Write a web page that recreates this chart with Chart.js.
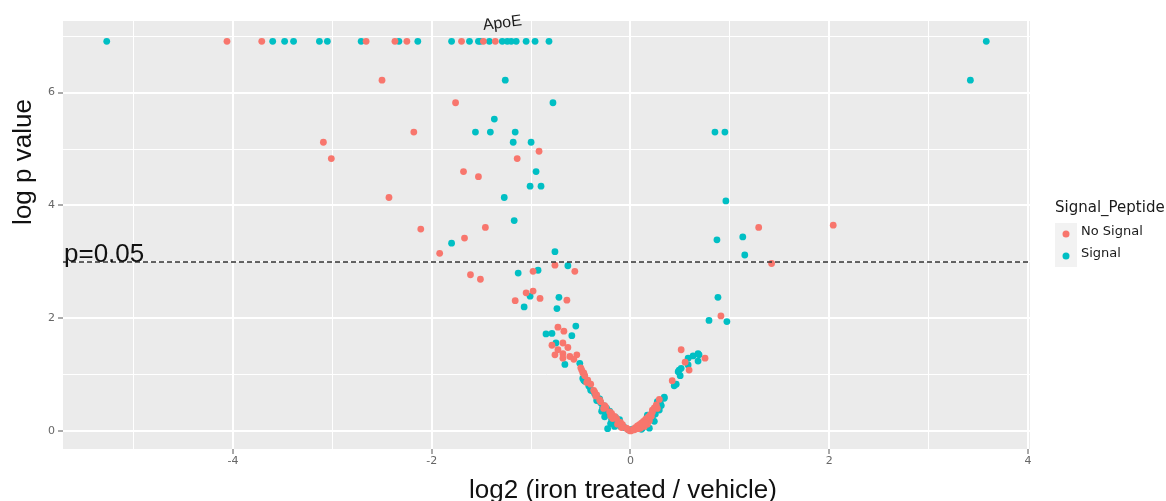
<!DOCTYPE html>
<html><head><meta charset="utf-8">
<script src="https://cdn.jsdelivr.net/npm/chart.js@4.4.1/dist/chart.umd.min.js"></script>
<style>html,body{margin:0;padding:0;background:#fff}#wrap{width:1166px;height:501px;position:relative}canvas{display:block}</style>
</head><body><div id="wrap"><canvas id="c" width="1166" height="501"></canvas></div>
<script>
// ---- data (log2 fold change, log p value) ----
const noSignal = [
  [-4.06,6.91],[-3.71,6.91],[-2.66,6.91],[-2.37,6.91],[-2.25,6.91],[-1.70,6.91],[-1.48,6.91],[-1.36,6.91],
  [-2.50,6.22],[-3.09,5.12],[-3.01,4.83],[-2.43,4.14],[-1.76,5.82],[-2.18,5.30],[-0.92,4.96],[-1.14,4.83],
  [-1.68,4.60],[-1.53,4.51],[1.29,3.61],[-2.11,3.58],[-1.46,3.61],[-1.67,3.42],[2.04,3.65],[1.42,2.97],
  [-1.92,3.15],[-0.76,2.94],[-0.56,2.83],[-0.98,2.83],[-1.61,2.77],[-1.51,2.69],[-1.05,2.45],[-0.98,2.48],
  [-0.91,2.35],[-0.64,2.32],[-1.16,2.31],[-0.73,1.84],[-0.67,1.77],[-0.79,1.52],[-0.68,1.56],[-0.73,1.44],
  [-0.63,1.48],[-0.76,1.35],[-0.68,1.37],[-0.68,1.29],[-0.61,1.32],[-0.54,1.35],[-0.57,1.27],[-0.50,1.12],
  [-0.47,1.03],[0.91,2.04],
  [-0.49,1.08],[-0.48,1.03],[-0.46,0.98],[-0.43,0.90],[-0.40,0.83],[-0.37,0.72],
  [-0.36,0.69],[-0.34,0.64],[-0.31,0.55],[-0.30,0.52],[-0.26,0.45],[-0.25,0.42],
  [-0.21,0.34],[-0.19,0.31],[-0.16,0.26],[-0.14,0.22],[-0.10,0.15],
  [-0.08,0.11],[-0.04,0.05],[-0.03,0.03],[-0.01,0.01],[0.00,0.00],[0.01,0.01],
  [-0.44,0.86],[-0.35,0.62],[-0.27,0.40],[-0.18,0.22],[-0.09,0.06],[-0.20,0.27],[-0.13,0.12],
  [0.03,0.03],[0.05,0.06],[0.07,0.09],[0.09,0.11],[0.11,0.14],[0.13,0.17],[0.15,0.20],[0.16,0.22],
  [0.18,0.25],[0.20,0.29],[0.22,0.33],[0.22,0.37],[0.24,0.41],[0.26,0.46],[0.10,0.05],[0.14,0.08],
  [0.17,0.12],[0.29,0.56],[0.42,0.89],[0.51,1.44],[0.55,1.22],[0.59,1.08],[0.75,1.29],
  [0.04,0.02],[0.08,0.04],[0.12,0.10],[0.19,0.18],[0.21,0.26],[0.27,0.40],[0.15,0.14]
];
const signal = [
  [-5.27,6.91],[-3.60,6.91],[-3.48,6.91],[-3.39,6.91],[-3.13,6.91],[-3.05,6.91],[-2.71,6.91],[-2.33,6.91],
  [-2.14,6.91],[-1.80,6.91],[-1.62,6.91],[-1.53,6.91],[-1.51,6.91],[-1.42,6.91],[-1.29,6.91],[-1.24,6.91],
  [-1.20,6.91],[-1.15,6.91],[-1.05,6.91],[-0.96,6.91],[-0.82,6.91],[3.58,6.91],
  [-1.26,6.22],[3.42,6.22],[-0.78,5.82],[-1.37,5.53],[-1.56,5.30],[-1.41,5.30],[-1.16,5.30],[-1.18,5.12],
  [-1.00,5.12],[-0.95,4.60],[-1.01,4.34],[-0.90,4.34],[-1.27,4.14],[0.85,5.30],[0.95,5.30],[0.96,4.08],
  [-1.17,3.73],[-1.80,3.33],[0.87,3.39],[1.13,3.44],[1.15,3.12],[-0.76,3.18],[-0.63,2.93],[-1.13,2.80],
  [-0.93,2.85],[-1.01,2.39],[-0.72,2.37],[-1.07,2.20],[-0.74,2.17],[0.88,2.37],[0.79,1.96],[0.97,1.94],
  [-0.55,1.86],[-0.85,1.72],[-0.79,1.73],[-0.59,1.69],[-0.75,1.56],[-0.66,1.18],[-0.51,1.20],
  [-0.47,0.90],[-0.46,0.88],[-0.41,0.78],[-0.38,0.71],[-0.33,0.58],[-0.30,0.50],[-0.27,0.45],[-0.24,0.40],
  [-0.21,0.35],[-0.26,0.25],[-0.19,0.20],[-0.15,0.24],[-0.11,0.20],[-0.13,0.14],[-0.09,0.10],[-0.23,0.04],
  [-0.16,0.08],[-0.06,0.06],[-0.02,0.02],
  [-0.48,0.93],[-0.42,0.80],[-0.36,0.66],[-0.31,0.57],[-0.28,0.42],[-0.22,0.30],[-0.18,0.24],[-0.12,0.16],
  [-0.07,0.07],[-0.20,0.13],[-0.29,0.35],
  [-0.40,0.72],[-0.34,0.54],[-0.25,0.33],[-0.17,0.17],[-0.10,0.08],
  [0.02,0.03],[0.06,0.05],[0.09,0.07],[0.12,0.05],[0.14,0.10],[0.19,0.05],[0.17,0.28],[0.20,0.22],
  [0.24,0.17],[0.25,0.30],[0.27,0.52],[0.29,0.37],[0.31,0.45],[0.34,0.58],[0.34,0.60],[0.44,0.80],
  [0.46,0.83],[0.48,1.05],[0.50,0.98],[0.49,1.08],[0.51,1.11],[0.58,1.17],[0.58,1.29],[0.63,1.33],
  [0.68,1.37],[0.69,1.35],[0.68,1.24],
  [0.30,0.50],[0.22,0.24],[0.11,0.03],[0.16,0.12]
];
const seriesNames = ['No Signal', 'Signal'];
const seriesColors = ['#F8766D', '#00BFC4'];
const legendTitle = 'Signal_Peptide';
const xMajorTicks = [-4, -2, 0, 2, 4];
const yMajorTicks = [0, 2, 4, 6];
const xRange = [-5.71, 4.02];
const yRange = [-0.32, 7.27];
const thresholdValue = 3;
const thresholdText = 'p=0.05';
const labelText = 'ApoE';
const labelPos = [-1.29, 7.23];
const xTitle = 'log2 (iron treated / vehicle)';
const yTitle = 'log p value';

const toPts = arr => arr.map(p => ({x: p[0], y: p[1]}));
const isMajor = (v, list) => list.some(t => Math.abs(t - v) < 1e-9);

const bgPlugin = {
  id: 'panelBg',
  beforeDraw(chart) {
    const {ctx, chartArea: a} = chart;
    ctx.save();
    ctx.fillStyle = '#EBEBEB';
    ctx.fillRect(a.left, a.top, a.right - a.left, a.bottom - a.top);
    ctx.restore();
  }
};

const annoPlugin = {
  id: 'annos',
  afterDatasetsDraw(chart) {
    const {ctx, chartArea: a, scales} = chart;
    const y = scales.y.getPixelForValue(thresholdValue);
    ctx.save();
    ctx.strokeStyle = '#333333';
    ctx.lineWidth = 1.4;
    ctx.setLineDash([5, 3]);
    ctx.beginPath();
    ctx.moveTo(a.left, Math.round(y));
    ctx.lineTo(a.right, Math.round(y));
    ctx.stroke();
    ctx.setLineDash([]);
    ctx.fillStyle = '#111111';
    ctx.font = '26px "Liberation Sans", Arial, sans-serif';
    ctx.textAlign = 'left';
    ctx.textBaseline = 'alphabetic';
    ctx.fillText(thresholdText, a.left + 1, y);
    // ApoE label
    const lx = scales.x.getPixelForValue(labelPos[0]);
    const ly = scales.y.getPixelForValue(labelPos[1]);
    ctx.translate(lx, ly);
    ctx.rotate(-7 * Math.PI / 180);
    ctx.font = '16px "Liberation Sans", Arial, sans-serif';
    ctx.textAlign = 'center';
    ctx.textBaseline = 'middle';
    ctx.fillStyle = '#1a1a1a';
    ctx.fillText(labelText, 0, 0);
    ctx.restore();
  },
  afterDraw(chart) {
    const {ctx} = chart;
    ctx.save();
    ctx.fillStyle = '#111111';
    ctx.font = '26px "Liberation Sans", Arial, sans-serif';
    ctx.textBaseline = 'alphabetic';
    ctx.textAlign = 'center';
    ctx.fillText(xTitle, 623, 498);
    ctx.save();
    ctx.translate(31, 162);
    ctx.rotate(-Math.PI / 2);
    ctx.fillText(yTitle, 0, 0);
    ctx.restore();
    // legend
    ctx.textAlign = 'left';
    ctx.textBaseline = 'middle';
    ctx.font = '15px "DejaVu Sans", sans-serif';
    ctx.fillStyle = '#1a1a1a';
    ctx.fillText(legendTitle, 1055, 208);
    ctx.font = '13px "DejaVu Sans", sans-serif';
    seriesNames.forEach((name, i) => {
      const top = 223 + i * 22;
      ctx.fillStyle = '#F2F2F2';
      ctx.fillRect(1055, top, 22, 22);
      ctx.fillStyle = seriesColors[i];
      ctx.beginPath();
      ctx.arc(1066, top + 11, 3.5, 0, Math.PI * 2);
      ctx.fill();
      ctx.fillStyle = '#1a1a1a';
      ctx.fillText(name, 1081, top + 9);
    });
    ctx.restore();
  }
};

const gridOpts = list => ({
  color: '#FFFFFF',
  lineWidth: c => isMajor(c.tick.value, list) ? 2 : 1,
  drawTicks: true,
  tickLength: 5,
  tickWidth: 1,
  tickColor: c => isMajor(c.tick.value, list) ? '#555555' : 'rgba(0,0,0,0)'
});

new Chart(document.getElementById('c'), {
  type: 'scatter',
  data: {
    datasets: [
      {label: seriesNames[0], data: toPts(noSignal), backgroundColor: seriesColors[0], borderWidth: 0, pointRadius: 3.4, pointHoverRadius: 3.4},
      {label: seriesNames[1], data: toPts(signal), backgroundColor: seriesColors[1], borderWidth: 0, pointRadius: 3.4, pointHoverRadius: 3.4}
    ]
  },
  options: {
    responsive: false,
    animation: false,
    devicePixelRatio: 1,
    layout: {padding: {top: 21, right: 136, left: 0, bottom: 0}},
    plugins: {legend: {display: false}, tooltip: {enabled: false}},
    scales: {
      x: {
        type: 'linear', min: xRange[0], max: xRange[1],
        border: {display: false},
        grid: gridOpts(xMajorTicks),
        ticks: {
          stepSize: 1, includeBounds: false, autoSkip: false, maxRotation: 0, padding: 1,
          color: '#666666', font: {family: '"DejaVu Sans", sans-serif', size: 11},
          callback: v => isMajor(v, xMajorTicks) ? String(v) : ''
        },
        afterFit: s => { s.height = 52; }
      },
      y: {
        type: 'linear', min: yRange[0], max: yRange[1],
        border: {display: false},
        grid: gridOpts(yMajorTicks),
        ticks: {
          stepSize: 1, includeBounds: false, autoSkip: false, padding: 3,
          color: '#666666', font: {family: '"DejaVu Sans", sans-serif', size: 11},
          callback: v => isMajor(v, yMajorTicks) ? String(v) : ''
        },
        afterFit: s => { s.width = 63; }
      }
    }
  },
  plugins: [bgPlugin, annoPlugin]
});
</script>
</body></html>
